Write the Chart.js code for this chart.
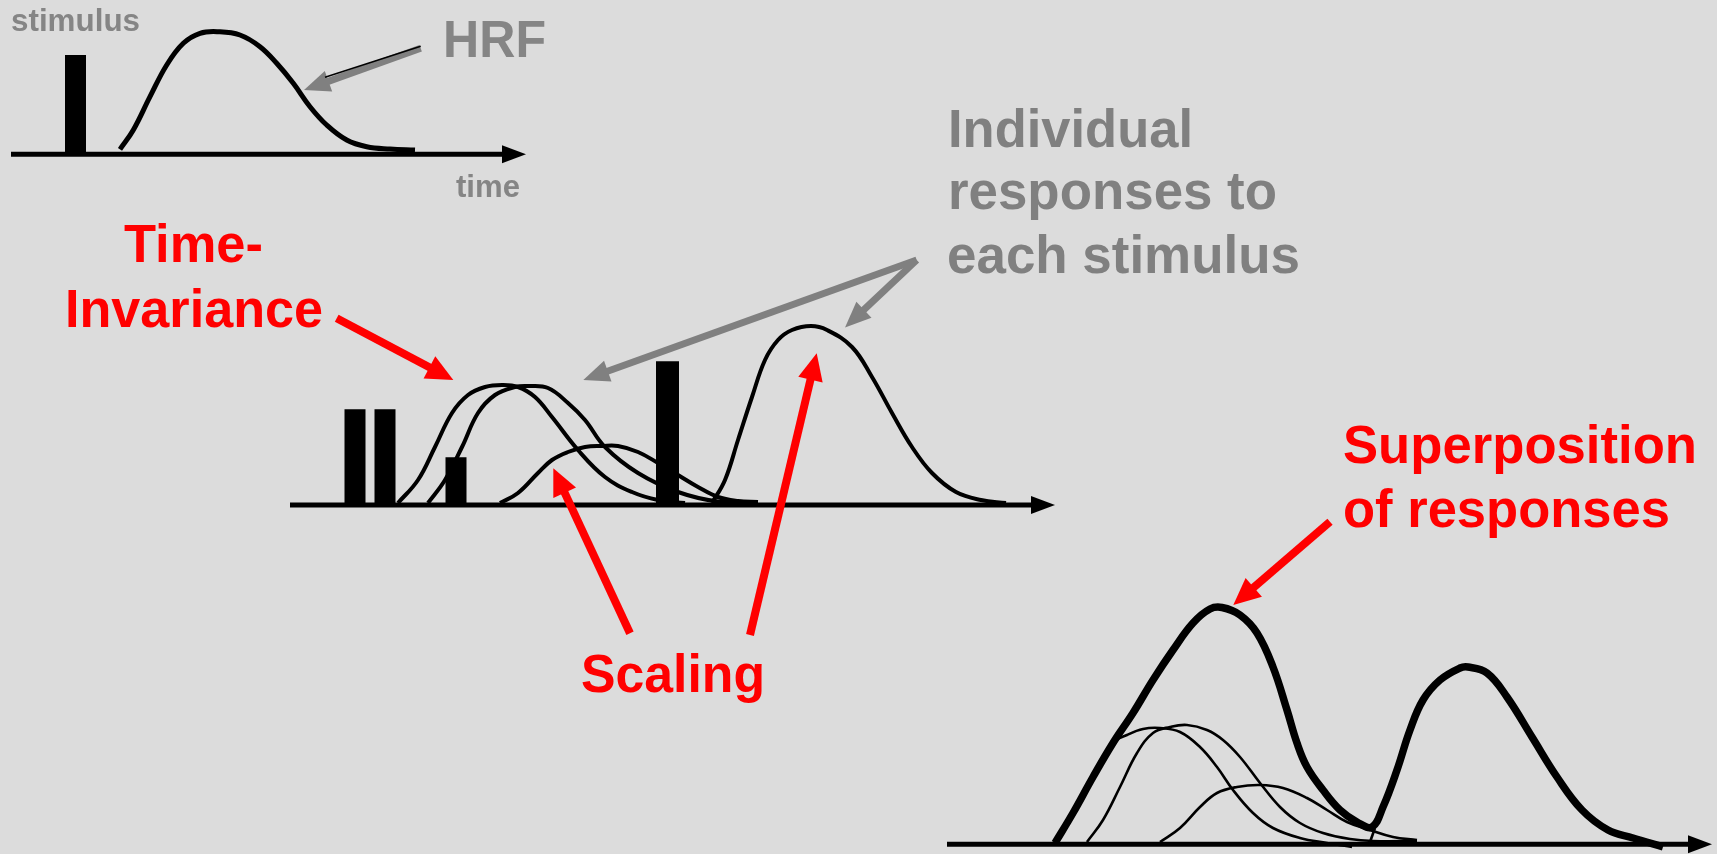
<!DOCTYPE html>
<html>
<head>
<meta charset="utf-8">
<script src="https://cdn.jsdelivr.net/npm/chart.js@4/dist/chart.umd.min.js"></script>
<style>
  html, body { margin: 0; padding: 0; background: #dcdcdc; }
  #c { display: block; }
</style>
</head>
<body>
<canvas id="c" width="1717" height="854"></canvas>
<script>
// Diagram units: x/y (y grows downward)

// Panel 1: single stimulus and its HRF
const stimSingle = [{ x: 75.5, top: 55, base: 154 }];
const hrfCurve = [[120,149.3],[133.3,130],[150,96.7],[166.7,65],[183.3,43.3],[200,33.3],[218.3,31.7],[240,35],[260,46.7],[276.7,63.3],[293.3,83.3],[310,106.7],[326.7,125],[346.7,140],[366.7,146.7],[390,149],[415,150]];

// Panel 2: four stimuli and individual responses
const stimTrain = [
  { x: 355, top: 409.3, base: 505 },
  { x: 385, top: 409.3, base: 505 },
  { x: 456, top: 457.3, base: 505 },
  { x: 667.5, top: 361.3, base: 505 }
];
const respA = [[398,503],[418,480],[435,447],[452,413],[468,395],[485,387],[502,385],[518,387],[535,397],[552,417],[578,450],[605,477],[632,492],[658,500],[685,503]];
const respB = [[428,503],[445,480],[462,447],[478,413],[495,395],[515,387],[528,386],[548,388],[568,403],[585,420],[605,447],[638,473],[678,492],[718,501.5],[758,502]];
const respC = [[500,503],[518,493],[538,473],[552,460],[568,452],[585,447],[602,446],[618,446],[638,452],[658,463],[678,475],[698,487],[718,497],[738,501],[758,502]];
const respD = [[712,503],[725,480],[738,440],[752,397],[765,360],[778,340],[792,330],[811,326],[827,330],[852,347],[872,377],[892,413],[912,447],[932,473],[956,492],[981,500],[1006,503]];

// Panel 3: individual responses and their sum
const sepT1 = [[1055,843],[1073,813],[1093,777],[1113,743],[1127,735],[1143,729],[1160,728],[1180,732],[1200,747],[1217,767],[1233,790],[1253,813],[1273,828],[1300,838],[1327,843],[1352,847]];
const sepT2 = [[1087,842],[1103,820],[1120,787],[1137,753],[1153,733],[1170,727],[1187,725],[1207,730],[1223,740],[1240,757],[1260,783],[1280,807],[1300,823],[1323,833],[1350,839],[1373,841],[1417,841]];
const sepT3 = [[1160,842],[1180,828],[1200,807],[1217,793],[1237,787],[1260,785],[1283,788],[1307,798],[1327,810],[1347,822],[1370,830],[1393,837],[1417,840]];
const sepT4 = [[1370,842],[1375,828]];
const sumCurve = [[1055,843],[1073,813],[1093,777],[1113,743],[1133,713],[1153,680],[1173,650],[1193,623],[1210,609],[1222,607.5],[1240,615],[1257,633],[1273,667],[1287,710],[1297,743],[1307,767],[1323,790],[1340,810],[1357,822],[1372,827],[1383,807],[1397,770],[1410,730],[1423,700],[1440,680],[1460,668],[1468,667],[1487,673],[1507,697],[1532,737],[1557,777],[1582,810],[1608,830],[1633,838],[1663,847]];

// Time axes (tail, tip)
const timeAxes = [
  [[11,154.3],[526,154.3]],
  [[290,505],[1055,505]],
  [[947,844.3],[1712,844.3]]
];

// Pointer arrows (tail, tip)
const grayPointers = [
  [[420.7,48.3],[304,90]],
  [[916.7,260],[583.3,380]],
  [[916.7,260],[845,327.5]]
];
const redPointers = [
  [[336.7,318.3],[453.3,380]],
  [[630,633.3],[553.3,468.3]],
  [[750,635],[816.7,353.3]],
  [[1330,521.7],[1233.3,605]]
];

const labels = [
  { text: "stimulus", x: 11, y: 30.7, size: 31, width: 129, color: "#858585" },
  { text: "HRF", x: 443, y: 56.7, size: 51, width: 103, color: "#858585" },
  { text: "time", x: 456, y: 196.7, size: 31, width: 64, color: "#858585" },
  { text: "Individual", x: 948, y: 146.7, size: 53, width: 245, color: "#808080" },
  { text: "responses to", x: 948, y: 209.3, size: 53, width: 329, color: "#808080" },
  { text: "each stimulus", x: 947, y: 273.3, size: 53, width: 353, color: "#808080" },
  { text: "Time-", x: 124, y: 261.7, size: 53, width: 139, color: "#ff0000" },
  { text: "Invariance", x: 65, y: 326.7, size: 53, width: 258, color: "#ff0000" },
  { text: "Scaling", x: 581, y: 691.7, size: 53, width: 184, color: "#ff0000" },
  { text: "Superposition", x: 1343, y: 463.3, size: 53, width: 354, color: "#ff0000" },
  { text: "of responses", x: 1343, y: 526.7, size: 53, width: 327, color: "#ff0000" }
];

const toPts = (arr) => arr.map(([x, y]) => ({ x, y }));

function curve(data, width, order) {
  return {
    data: toPts(data),
    borderColor: "#000",
    borderWidth: width,
    borderJoinStyle: "round",
    pointRadius: 0,
    tension: 0.4,
    fill: false,
    clip: false,
    order: order
  };
}

function stimBar(s, width) {
  return {
    data: [{ x: s.x, y: s.base }, { x: s.x, y: s.top }],
    borderColor: "#000",
    borderWidth: width,
    borderCapStyle: "butt",
    pointRadius: 0,
    tension: 0,
    fill: false,
    clip: false,
    order: 5
  };
}

function drawArrow(ctx, from, to, color, shaft, headLen, headW) {
  const dx = to[0] - from[0], dy = to[1] - from[1];
  const len = Math.hypot(dx, dy);
  const ux = dx / len, uy = dy / len;
  const bx = to[0] - ux * headLen, by = to[1] - uy * headLen;
  ctx.strokeStyle = color;
  ctx.lineWidth = shaft;
  ctx.lineCap = "butt";
  ctx.beginPath();
  ctx.moveTo(from[0], from[1]);
  ctx.lineTo(bx + ux, by + uy);
  ctx.stroke();
  ctx.fillStyle = color;
  ctx.beginPath();
  ctx.moveTo(to[0], to[1]);
  ctx.lineTo(bx - uy * headW / 2, by + ux * headW / 2);
  ctx.lineTo(bx + uy * headW / 2, by - ux * headW / 2);
  ctx.closePath();
  ctx.fill();
}

const diagramPlugin = {
  id: "diagram",
  beforeDatasetsDraw(chart) {
    const { ctx, scales } = chart;
    const p = (pt) => [scales.x.getPixelForValue(pt[0]), scales.y.getPixelForValue(pt[1])];
    ctx.save();
    timeAxes.forEach(([a, b]) => drawArrow(ctx, p(a), p(b), "#000", 5, 24, 18));
    ctx.restore();
  },
  afterDatasetsDraw(chart) {
    const { ctx, scales } = chart;
    const p = (pt) => [scales.x.getPixelForValue(pt[0]), scales.y.getPixelForValue(pt[1])];
    ctx.save();
    grayPointers.forEach(([a, b]) => drawArrow(ctx, p(a), p(b), "#808080", 7, 26, 22));
    // thin dark edge along the HRF pointer
    ctx.strokeStyle = "#000";
    ctx.lineWidth = 1.5;
    ctx.beginPath();
    const e1 = p([325, 77.3]), e2 = p([420.7, 46.2]);
    ctx.moveTo(e1[0], e1[1]);
    ctx.lineTo(e2[0], e2[1]);
    ctx.stroke();
    redPointers.forEach(([a, b]) => drawArrow(ctx, p(a), p(b), "#ff0000", 8, 27, 25));

    labels.forEach((l) => {
      ctx.font = `bold ${l.size}px "Liberation Sans", Arial, sans-serif`;
      const w = ctx.measureText(l.text).width;
      const [lx, ly] = p([l.x, l.y]);
      ctx.save();
      ctx.translate(lx, ly);
      ctx.scale(l.width / w, 1);
      ctx.fillStyle = l.color;
      ctx.textAlign = "left";
      ctx.textBaseline = "alphabetic";
      ctx.fillText(l.text, 0, 0);
      ctx.restore();
    });
    ctx.restore();
  }
};

new Chart(document.getElementById("c"), {
  type: "line",
  data: {
    datasets: [
      curve(sumCurve, 7.5, 0),
      curve(sepT1, 2.6, 1),
      curve(sepT2, 2.6, 1),
      curve(sepT3, 2.6, 1),
      curve(sepT4, 2.6, 1),
      curve(hrfCurve, 5, 2),
      curve(respA, 4, 2),
      curve(respB, 4, 2),
      curve(respC, 4, 2),
      curve(respD, 4, 2),
      ...stimSingle.map((s) => stimBar(s, 21)),
      ...stimTrain.map((s, i) => stimBar(s, i === 3 ? 23 : 21))
    ]
  },
  options: {
    responsive: false,
    animation: false,
    layout: { padding: 0 },
    plugins: { legend: { display: false }, tooltip: { enabled: false } },
    scales: {
      x: { type: "linear", min: 0, max: 1717, display: false },
      y: { type: "linear", min: 0, max: 854, reverse: true, display: false }
    }
  },
  plugins: [diagramPlugin]
});
</script>
</body>
</html>
